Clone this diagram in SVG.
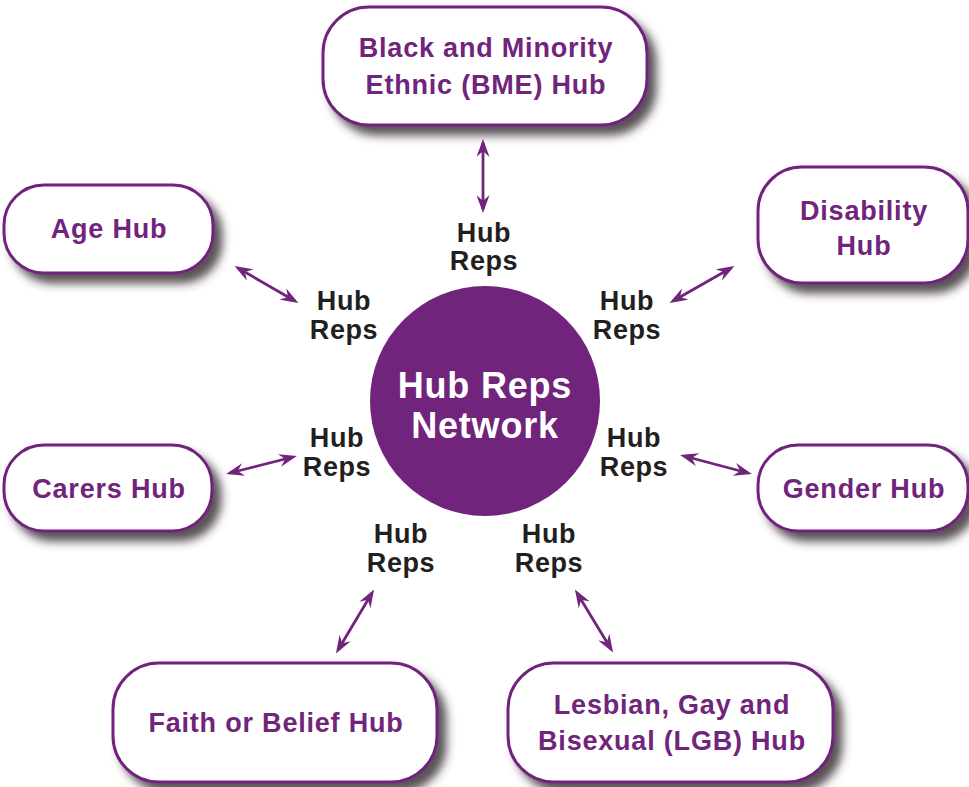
<svg xmlns="http://www.w3.org/2000/svg" width="969" height="787" viewBox="0 0 969 787">
<defs>
<filter id="sh" x="-20%" y="-20%" width="150%" height="160%">
<feDropShadow dx="8" dy="9" stdDeviation="5" flood-color="#3d3337" flood-opacity="0.85"/>
</filter>
<marker id="ah" viewBox="0 0 18 13" refX="14" refY="6.5" markerWidth="18" markerHeight="13" markerUnits="userSpaceOnUse" orient="auto-start-reverse">
<path d="M0,0 L18,6.5 L0,13 L6,6.5 z" fill="#71247c"/>
</marker>
</defs>
<style>
.box{fill:#fff;stroke:#71247c;stroke-width:3;filter:url(#sh)}
.bt{font-family:"Liberation Sans",Arial,sans-serif;font-weight:bold;font-size:27px;letter-spacing:0.8px;fill:#71247c;text-anchor:middle}
.rep{font-family:"Liberation Sans",Arial,sans-serif;font-weight:bold;font-size:27px;letter-spacing:0.6px;fill:#231f20;text-anchor:middle}
.ct{font-family:"Liberation Sans",Arial,sans-serif;font-weight:bold;font-size:36px;letter-spacing:0.8px;fill:#fff;text-anchor:middle}
.ar{stroke:#71247c;stroke-width:2.8;fill:none;marker-start:url(#ah);marker-end:url(#ah)}
</style>
<g id="connectors">
<line class="ar" x1="483" y1="143" x2="483" y2="209"/>
<line class="ar" x1="238" y1="268" x2="295" y2="301"/>
<line class="ar" x1="230" y1="473" x2="293" y2="457"/>
<line class="ar" x1="338" y1="650" x2="372" y2="593"/>
<line class="ar" x1="577" y1="593" x2="611" y2="649"/>
<line class="ar" x1="684" y1="456" x2="748" y2="473"/>
<line class="ar" x1="673" y1="301" x2="731" y2="268"/>
</g>
<g id="center">
<circle cx="485" cy="401" r="115" fill="#71247c"/>
<text class="ct" x="485" y="398">Hub Reps</text>
<text class="ct" x="485" y="438">Network</text>
</g>
<g id="bme">
<rect class="box" x="323" y="7" width="324" height="118" rx="46"/>
<text class="bt" x="486" y="57">Black and Minority</text>
<text class="bt" x="486" y="94">Ethnic (BME) Hub</text>
</g>
<g id="age">
<rect class="box" x="4" y="185" width="209" height="88" rx="40"/>
<text class="bt" x="109" y="238">Age Hub</text>
</g>
<g id="disability">
<rect class="box" x="758" y="167" width="210" height="116" rx="44"/>
<text class="bt" x="864" y="220">Disability</text>
<text class="bt" x="864" y="255">Hub</text>
</g>
<g id="carers">
<rect class="box" x="4" y="445" width="208" height="86" rx="40"/>
<text class="bt" x="109" y="498">Carers Hub</text>
</g>
<g id="gender">
<rect class="box" x="758" y="445" width="210" height="86" rx="40"/>
<text class="bt" x="864" y="498">Gender Hub</text>
</g>
<g id="faith">
<rect class="box" x="113" y="663" width="324" height="119" rx="46"/>
<text class="bt" x="276" y="732">Faith or Belief Hub</text>
</g>
<g id="lgb">
<rect class="box" x="508" y="663" width="325" height="119" rx="46"/>
<text class="bt" x="672" y="714">Lesbian, Gay and</text>
<text class="bt" x="672" y="750">Bisexual (LGB) Hub</text>
</g>
<g id="reps">
<text class="rep" x="484" y="242">Hub</text><text class="rep" x="484" y="270">Reps</text>
<text class="rep" x="344" y="310">Hub</text><text class="rep" x="344" y="339">Reps</text>
<text class="rep" x="627" y="310">Hub</text><text class="rep" x="627" y="339">Reps</text>
<text class="rep" x="337" y="447">Hub</text><text class="rep" x="337" y="476">Reps</text>
<text class="rep" x="634" y="447">Hub</text><text class="rep" x="634" y="476">Reps</text>
<text class="rep" x="401" y="543">Hub</text><text class="rep" x="401" y="572">Reps</text>
<text class="rep" x="549" y="543">Hub</text><text class="rep" x="549" y="572">Reps</text>
</g>
</svg>
